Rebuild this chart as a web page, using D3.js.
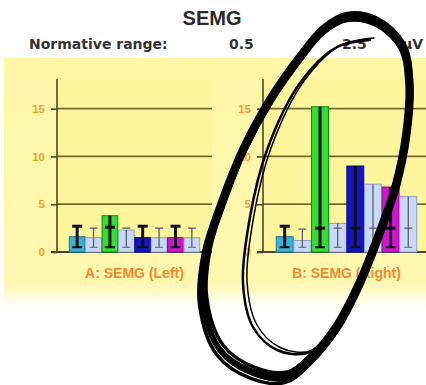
<!DOCTYPE html>
<html><head><meta charset="utf-8">
<script src="https://cdn.jsdelivr.net/npm/d3@7"></script>
<style>html,body{margin:0;padding:0;background:#fff;}svg{display:block;}</style>
</head><body>
<svg id="c" width="426" height="385"></svg>
<script>
const title = "SEMG";
const normLabel = "Normative range:";
const normLow = "0.5";
const normHigh = "2.5";
const unit = "µV";
const panelLabels = ["A: SEMG (Left)", "B: SEMG (Right)"];
const barIndex = [0, 1, 2, 3, 4, 5, 6, 7];
const barColors = ["#3AB0D4", "#C9D9F5", "#33DD33", "#C9D9F5", "#1414C4", "#C9D9F5", "#D414D4", "#C9D9F5"];
const barStrokes = ["#1F7890", "#8FA0C8", "#138813", "#8FA0C8", "#0A0A80", "#8FA0C8", "#801080", "#8FA0C8"];
const yTicks = [0, 5, 10, 15];
const leftValues = [1.6, 1.5, 3.8, 2.3, 1.5, 1.5, 1.5, 1.5];
const leftLineTop = [2.7, 2.5, 3.8, 2.3, 2.7, 2.5, 2.7, 2.5];
const leftCap = [2.7, 2.5, 2.6, 2.5, 2.7, 2.5, 2.7, 2.5];
const rightValues = [1.6, 1.2, 15.2, 3.0, 9.0, 7.1, 6.8, 5.8];
const rightLineTop = [2.7, 2.4, 15.2, 3.0, 9.0, 7.1, 6.8, 5.8];
const rightCap = [2.7, 2.4, 2.5, 2.5, 2.5, 2.5, 2.5, 2.5];
const errLow = [0.5, 0.5, 0.5, 0.5, 0.5, 0.5, 0.5, 0.5];
// hand-drawn annotation loop (not data)
const scribbleOuter = [[347,17],[377,22],[403,47],[410,83],[407,133],[397,183],[380,233],[360,283],[337,327],[310,360],[287,377],[253,373],[220,350],[203,300],[207,250],[223,200],[243,150],[270,100],[300,57],[323,30]];
const scribbleInner = [[370,40],[337,47],[300,83],[267,150],[250,217],[243,283],[253,327],[277,350],[307,353],[333,333]];

const svg = d3.select("#c");
const defs = svg.append("defs");
const g1 = defs.append("linearGradient").attr("id","band").attr("x1",0).attr("y1",0).attr("x2",0).attr("y2",1);
g1.append("stop").attr("offset","0%").attr("stop-color","#FFF7A6");
g1.append("stop").attr("offset","90%").attr("stop-color","#FFF8B0");
g1.append("stop").attr("offset","100%").attr("stop-color","#FFFFFF");

// header
svg.append("text").attr("x",212).attr("y",25).attr("text-anchor","middle")
  .attr("font-family","Liberation Sans, Arial, sans-serif").attr("font-weight","bold")
  .attr("font-size",20).attr("fill","#2a2a2a").text(title);
const hdr = svg.append("g").attr("font-family","DejaVu Sans, sans-serif")
  .attr("font-weight","bold").attr("font-size",14).attr("fill","#333");
hdr.append("text").attr("x",29).attr("y",49).text(normLabel);
hdr.append("text").attr("x",229).attr("y",49).text(normLow);
hdr.append("text").attr("x",342).attr("y",49).text(normHigh);
hdr.append("text").attr("x",402).attr("y",49).text(unit);

// yellow band
svg.append("rect").attr("x",4).attr("y",58).attr("width",422).attr("height",250).attr("fill","url(#band)");

const y = d3.scaleLinear().domain([0, 18]).range([252, 80]);

function panel(x0, x1, values, lineTop, caps, label) {
  const g = svg.append("g");
  const x = d3.scaleBand().domain(barIndex).range([x0, x1]).paddingInner(0.04).paddingOuter(0.75);
  g.append("rect").attr("x",x0).attr("y",79).attr("width",x1-x0).attr("height",252-79).attr("fill","#FFF59C");
  g.selectAll(".grid").data(yTicks.filter(d=>d>0)).join("line")
    .attr("x1",x0).attr("x2",x1).attr("y1",d=>y(d)).attr("y2",d=>y(d))
    .attr("stroke","#6E6A30").attr("stroke-width",1.8);
  const ax = d3.axisLeft(y).tickValues(yTicks).tickSize(6).tickPadding(6).tickFormat(d3.format("d"));
  const axg = g.append("g").attr("transform",`translate(${x0},0)`).call(ax);
  axg.select(".domain").attr("stroke","#4a4628").attr("stroke-width",1.6).attr("d",`M0,252V79`);
  axg.selectAll(".tick line").attr("stroke","#4a4628").attr("stroke-width",1.6);
  axg.selectAll(".tick text").attr("fill","#F0A030").attr("font-size",11.5).attr("font-weight","bold")
    .attr("font-family","Liberation Sans, Arial, sans-serif");
  g.append("line").attr("x1",x0-6).attr("x2",x1).attr("y1",252).attr("y2",252).attr("stroke","#4a4628").attr("stroke-width",1.8);
  g.selectAll(".bar").data(barIndex).join("rect")
    .attr("x",i=>x(i)).attr("width",x.bandwidth())
    .attr("y",i=>y(values[i])).attr("height",i=>y(0)-y(values[i]))
    .attr("fill",i=>barColors[i]).attr("stroke",i=>barStrokes[i]).attr("stroke-width",1);
  const eb = g.append("g");
  barIndex.forEach(i=>{
    const cx = x(i)+x.bandwidth()/2;
    const dark = i%2===0;
    const col = dark ? "#111" : "#556070";
    eb.append("line").attr("x1",cx).attr("x2",cx).attr("y1",y(errLow[i])).attr("y2",y(lineTop[i]))
      .attr("stroke",col).attr("stroke-width",dark?3:1.3);
    const cw = dark ? 5 : 4;
    eb.append("line").attr("x1",cx-cw).attr("x2",cx+cw).attr("y1",y(caps[i])).attr("y2",y(caps[i]))
      .attr("stroke",col).attr("stroke-width",dark?3:1.3);
    eb.append("line").attr("x1",cx-cw).attr("x2",cx+cw).attr("y1",y(errLow[i])).attr("y2",y(errLow[i]))
      .attr("stroke",col).attr("stroke-width",dark?2:1);
  });
  g.append("text").attr("x",(x0+x1)/2).attr("y",278).attr("text-anchor","middle")
    .attr("font-family","Liberation Sans, Arial, sans-serif").attr("font-weight","bold")
    .attr("font-size",14).attr("fill","#F08A30").text(label);
}
panel(57, 212, leftValues, leftLineTop, leftCap, panelLabels[0]);
panel(263, 430, rightValues, rightLineTop, rightCap, panelLabels[1]);

// scribble
const sc = svg.append("g").attr("fill","none").attr("stroke","#000").attr("stroke-linecap","round").attr("stroke-linejoin","round");
const closed = d3.line().curve(d3.curveCatmullRomClosed);
const open = d3.line().curve(d3.curveCatmullRom);
const cxs = 307, cys = 200;
[[1.0,0,0,6],[0.975,1,-1,3.5],[1.025,-1,1,3.5],[1.0,2,2,3],[0.985,-2,-1,2.5]].forEach(([k,dx,dy,w])=>{
  const pts = scribbleOuter.map(([px,py])=>[cxs+(px-cxs)*k+dx, cys+(py-cys)*k+dy]);
  sc.append("path").attr("d",closed(pts)).attr("stroke-width",w);
});
sc.append("path").attr("d",open(scribbleInner)).attr("stroke-width",2.5);
sc.append("path").attr("d",open(scribbleInner.map(([px,py])=>[px+4,py-2]))).attr("stroke-width",1.5);
</script>
</body></html>
